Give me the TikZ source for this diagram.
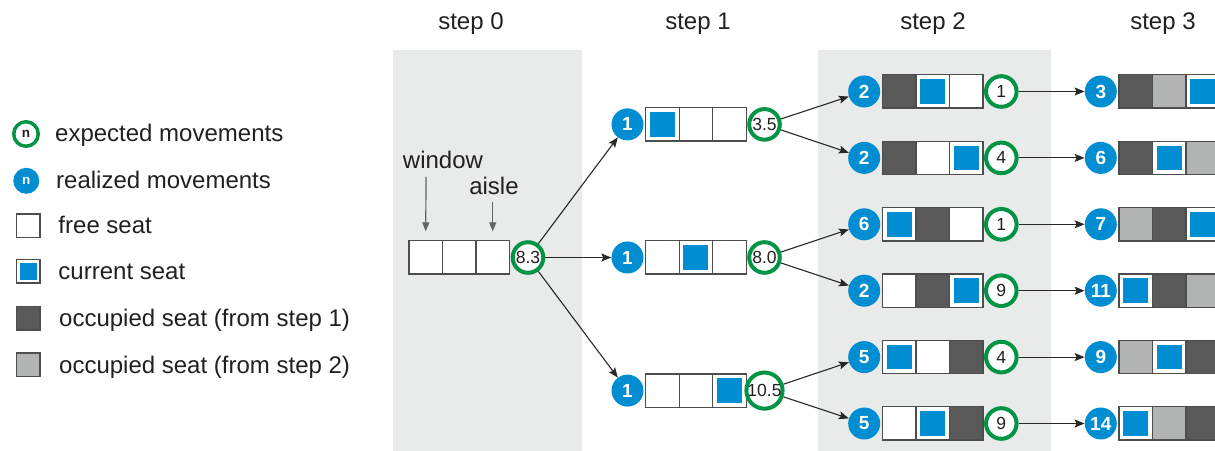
\documentclass[tikz,border=0pt]{standalone}
\usepackage{fontspec}
\setmainfont{Liberation Sans}
\usetikzlibrary{arrows.meta}
\definecolor{mblue}{RGB}{0,141,210}
\definecolor{mgreen}{RGB}{0,148,68}
\definecolor{bgray}{RGB}{233,234,234}
\definecolor{dseat}{RGB}{89,89,89}
\definecolor{lseat}{RGB}{178,179,179}
\definecolor{sborder}{RGB}{77,77,77}
\definecolor{connc}{RGB}{40,40,40}
\definecolor{ptrc}{RGB}{100,100,100}
\definecolor{txtc}{RGB}{35,31,32}
\tikzset{
  seatcell/.style={draw=sborder, line width=1.3bp, minimum width=33.5bp, minimum height=33.3bp, inner sep=0, outer sep=0},
  freeseat/.style={seatcell, fill=white},
  curseat/.style={seatcell, fill=white, path picture={\fill[mblue] ([shift={(4.3bp,4.3bp)}]path picture bounding box.south west) rectangle ([shift={(-4.3bp,-4.3bp)}]path picture bounding box.north east);}},
  occA/.style={seatcell, fill=dseat},
  occB/.style={seatcell, fill=lseat},
  legsq/.style={minimum width=23.7bp, minimum height=23.7bp},
  expct/.style={circle, draw=mgreen, line width=4bp, fill=white, minimum size=30.6bp, inner sep=0, text=txtc, font=\fontsize{17.5bp}{17.5bp}\selectfont},
  realz/.style={circle, fill=mblue, minimum size=32bp, inner sep=0, text=white, font=\bfseries\fontsize{19bp}{19bp}\selectfont},
  legexp/.style={circle, draw=mgreen, line width=3.5bp, fill=white, minimum size=24.5bp, inner sep=0, text=txtc, font=\bfseries\fontsize{13.5bp}{13.5bp}\selectfont},
  legreal/.style={circle, fill=mblue, minimum size=26bp, inner sep=0, text=white, font=\bfseries\fontsize{13.5bp}{13.5bp}\selectfont},
  lbl/.style={inner sep=0, text=txtc, font=\fontsize{24bp}{28bp}\selectfont},
  conn/.style={draw=connc, line width=1.1bp, -{Stealth[length=10bp,width=8bp,inset=2bp]}},
  ptr/.style={draw=ptrc, line width=1.2bp, -{Triangle[length=9bp,width=7bp]}},
}
\newcommand\seatrow[6]{%
  \node[#4] (#1a) at (#2,#3) {};
  \node[#5] (#1b) at (#2+33.5,#3) {};
  \node[#6] (#1c) at (#2+67,#3) {};
}
\begin{document}
\begin{tikzpicture}[x=1bp, y=-1bp]
\useasboundingbox (0,0) rectangle (1215,451);
\clip (0,0) rectangle (1215,451);
% backgrounds
\fill[bgray] (393,50) rectangle (582,451);
\fill[bgray] (818,50) rectangle (1051,451);
% headers
\node[lbl, anchor=base] (h0) at (471,30) {step 0};
\node[lbl, anchor=base] (h1) at (698,30) {step 1};
\node[lbl, anchor=base] (h2) at (933,30) {step 2};
\node[lbl, anchor=base] (h3) at (1163,30) {step 3};
% legend
\node[legexp] (le) at (26,134) {n};
\node[lbl, anchor=base west] (let) at (55,141.7) {expected movements};
\node[legreal] (lr) at (26.3,180.8) {n};
\node[lbl, anchor=base west] (lrt) at (56,188.3) {realized movements};
\node[freeseat, legsq] (lf) at (28.2,225.8) {};
\node[lbl, anchor=base west] (lft) at (58.3,233.3) {free seat};
\node[curseat, legsq, path picture={\fill[mblue] ([shift={(3.4bp,3.4bp)}]path picture bounding box.south west) rectangle ([shift={(-3.4bp,-3.4bp)}]path picture bounding box.north east);}] (lc) at (28.2,271.3) {};
\node[lbl, anchor=base west] (lct) at (58.3,280) {current seat};
\node[occA, legsq] (lo1) at (28.2,318.2) {};
\node[lbl, anchor=base west] (lo1t) at (59,326.7) {occupied seat (from step 1)};
\node[occB, legsq] (lo2) at (28.2,364.8) {};
\node[lbl, anchor=base west] (lo2t) at (59,373.3) {occupied seat (from step 2)};
% step 0
\seatrow{s0}{425.75}{257.5}{freeseat}{freeseat}{freeseat}
\node[expct] (e0) at (528,257.5) {8.3};
\node[lbl, anchor=base] (win) at (443,168.3) {window};
\node[lbl, anchor=base] (ais) at (494,195) {aisle};
\coordinate (wst) at (426,177);
\coordinate (ast) at (492.75,201.7);
\draw[ptr] (wst) -- ([yshift=9.5bp]s0a.north);
\draw[ptr] (ast) -- ([yshift=9.5bp]s0c.north);
% step 1
\node[realz] (r1a) at (627.5,124.4) {1};
\seatrow{s1a}{662.4}{124.4}{curseat}{freeseat}{freeseat}
\node[expct] (e1a) at (764.5,124.4) {3.5};
\node[realz] (r1b) at (627.5,257.5) {1};
\seatrow{s1b}{662.4}{257.5}{freeseat}{curseat}{freeseat}
\node[expct] (e1b) at (764.5,257.5) {8.0};
\node[realz] (r1c) at (627.5,390.6) {1};
\seatrow{s1c}{662.4}{390.6}{freeseat}{freeseat}{curseat}
\node[expct] (e1c) at (764.5,390.6) {10.5};
% step 2
\node[realz] (r2a) at (864.2,91.5) {2};
\seatrow{s2a}{899.1}{91.5}{occA}{curseat}{freeseat}
\node[expct] (e2a) at (1001.3,91.5) {1};
\node[realz] (r2b) at (864.2,157.9) {2};
\seatrow{s2b}{899.1}{157.9}{occA}{freeseat}{curseat}
\node[expct] (e2b) at (1001.3,157.9) {4};
\node[realz] (r2c) at (864.2,224.3) {6};
\seatrow{s2c}{899.1}{224.3}{curseat}{occA}{freeseat}
\node[expct] (e2c) at (1001.3,224.3) {1};
\node[realz] (r2d) at (864.2,290.7) {2};
\seatrow{s2d}{899.1}{290.7}{freeseat}{occA}{curseat}
\node[expct] (e2d) at (1001.3,290.7) {9};
\node[realz] (r2e) at (864.2,357.1) {5};
\seatrow{s2e}{899.1}{357.1}{curseat}{freeseat}{occA}
\node[expct] (e2e) at (1001.3,357.1) {4};
\node[realz] (r2f) at (864.2,423.5) {5};
\seatrow{s2f}{899.1}{423.5}{freeseat}{curseat}{occA}
\node[expct] (e2f) at (1001.3,423.5) {9};
% step 3
\node[realz] (r3a) at (1100.8,91.5) {3};
\seatrow{s3a}{1135.8}{91.5}{occA}{occB}{curseat}
\node[realz] (r3b) at (1100.8,157.9) {6};
\seatrow{s3b}{1135.8}{157.9}{occA}{curseat}{occB}
\node[realz] (r3c) at (1100.8,224.3) {7};
\seatrow{s3c}{1135.8}{224.3}{occB}{occA}{curseat}
\node[realz] (r3d) at (1100.8,290.7) {11};
\seatrow{s3d}{1135.8}{290.7}{curseat}{occA}{occB}
\node[realz] (r3e) at (1100.8,357.1) {9};
\seatrow{s3e}{1135.8}{357.1}{occB}{curseat}{occA}
\node[realz] (r3f) at (1100.8,423.5) {14};
\seatrow{s3f}{1135.8}{423.5}{curseat}{occB}{occA}
% connectors
\draw[conn] (e0) -- (r1a);
\draw[conn] (e0) -- (r1b);
\draw[conn] (e0) -- (r1c);
\draw[conn] (e1a) -- (r2a);
\draw[conn] (e1a) -- (r2b);
\draw[conn] (e1b) -- (r2c);
\draw[conn] (e1b) -- (r2d);
\draw[conn] (e1c) -- (r2e);
\draw[conn] (e1c) -- (r2f);
\draw[conn] (e2a) -- (r3a);
\draw[conn] (e2b) -- (r3b);
\draw[conn] (e2c) -- (r3c);
\draw[conn] (e2d) -- (r3d);
\draw[conn] (e2e) -- (r3e);
\draw[conn] (e2f) -- (r3f);
\end{tikzpicture}
\end{document}
